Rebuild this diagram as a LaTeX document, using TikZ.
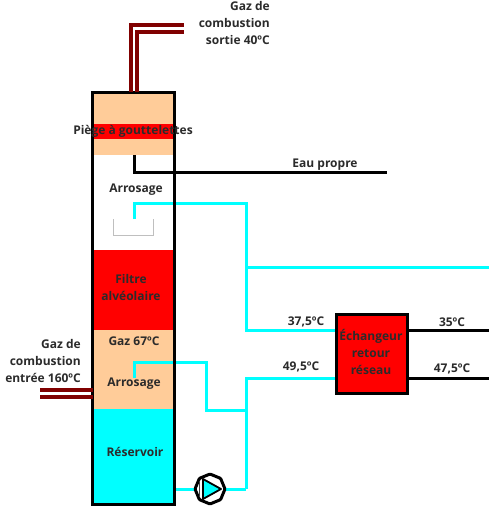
\documentclass[tikz,border=0pt]{standalone}
\usepackage{fontspec}
\setmainfont{Open Sans}
\usetikzlibrary{calc,shapes.geometric}
\definecolor{peach}{HTML}{FFCC99}
\definecolor{gasred}{HTML}{800000}
\definecolor{txt}{HTML}{2B2B2B}
\definecolor{aqua}{HTML}{00FFFF}
\tikzset{
  zone/.style={draw=none,inner sep=0,outer sep=0,minimum width=81pt,anchor=north west},
  lbl/.style={font=\bfseries\fontsize{12}{17}\selectfont,text=txt,inner sep=0,align=center},
  lblr/.style={lbl,align=right},
  cyanline/.style={draw=aqua,line width=3pt,line join=miter},
  blackline/.style={draw=black,line width=3pt,line join=miter},
  gasline/.style={draw=gasred,line width=3.2pt,line join=miter},
  wallbox/.style={draw=black,line width=3.6pt,fill=none,inner sep=0,outer sep=0,anchor=north west}
}
\begin{document}
\begin{tikzpicture}[x=1pt,y=-1pt]
\useasboundingbox (0,0) rectangle (494,512);
% zones
\node[zone,fill=peach,minimum height=63pt] (top) at (93,92) {};
\node[zone,fill=red,minimum height=15pt] (trap) at (93,124) {};
\node[zone,fill=red,minimum height=80pt] (filt) at (93,250) {};
\node[zone,fill=peach,minimum height=79pt] (gaz) at (93,330) {};
\node[zone,fill=aqua,minimum height=96pt] (res) at (93,409) {};
% tray
\coordinate (t1) at (113,219); \coordinate (t2) at (113,235);
\coordinate (t3) at (153,235); \coordinate (t4) at (153,219);
\draw[black!25,line width=.8pt] (t1) -- (t2) -- (t3) -- (t4);
% coordinates
\coordinate (ca) at (134,219); \coordinate (cb) at (134,203); \coordinate (cc) at (246,203);
\coordinate (cd) at (246,330); \coordinate (br) at (246,267); \coordinate (ce) at (489,267);
\coordinate (la) at (134,378); \coordinate (lb) at (134,362); \coordinate (lc) at (206,362);
\coordinate (ld) at (206,410); \coordinate (le) at (246,410);
\coordinate (lf) at (246,378); \coordinate (lg) at (246,489);
\coordinate (wa) at (134,155); \coordinate (wb) at (134,172); \coordinate (wc) at (387,172);
\coordinate (p) at (210,489);
\coordinate (o1) at (489,330); \coordinate (o2) at (489,378);
% lines under the walls
\draw[blackline] (wa) -- (wb) -- (wc);
\draw[cyanline] (ca) -- (cb) -- (cc) -- (cd) -- (336,330);
\draw[cyanline] (br) -- (ce);
\draw[cyanline] (la) -- (lb) -- (lc) -- (ld) -- (le);
\draw[cyanline] (lg) -- (lf) -- (336,378);
\draw[cyanline] (174,489) -- (p);
\draw[cyanline] (p) -- (lg);
% column and exchanger
\node[wallbox,minimum width=82pt,minimum height=412pt] (col) at (92.5,92.5) {};
\node[wallbox,fill=red,minimum width=71pt,minimum height=79pt] (ech) at (336.5,314.5) {};
\draw[blackline] (ech.east |- o1) -- (o1);
\draw[blackline] (ech.east |- o2) -- (o2);
% gas
\coordinate (g1) at (131,92); \coordinate (g2) at (131,25); \coordinate (g3) at (184,25);
\coordinate (g4) at (137,92); \coordinate (g5) at (137,32); \coordinate (g6) at (184,32);
\draw[gasline] (g1) -- (g2) -- (g3);
\draw[gasline] (g4) -- (g5) -- (g6);
\coordinate (g7) at (40,390); \coordinate (g8) at (40,397);
\draw[gasline] (g7) -- (g7 -| col.west);
\draw[gasline] (g8) -- (g8 -| col.west);
% pump
\node[draw=black,line width=3pt,fill=white,regular polygon,regular polygon sides=8,rounded corners=1pt,minimum size=30pt,inner sep=0,shape border rotate=22.5] (pump) at (p) {};
\fill[aqua] (203,479) -- (221,489) -- (203,499) -- cycle;
\draw[black,line width=1.8pt,line join=round] (203,479) -- (221,489) -- (203,499) -- cycle;
\draw[black!75,line width=1.6pt] (199.5,481) -- (199.5,497);
% labels
\node[lblr,anchor=north east] (l1) at (270,1) {Gaz de\\combustion\\sortie 40ºC};
\node[lbl] (l2) at (133,131) {Piège à gouttelettes};
\node[lbl] (l3) at (136,190) {Arrosage};
\node[lbl] (l4) at (325,164.5) {Eau propre};
\node[lbl] (l5) at (131,287) {Filtre\\alvéolaire};
\node[lbl] (l6) at (134,341) {Gaz 67ºC};
\node[lbl] (l7) at (134,384) {Arrosage};
\node[lbl] (l8) at (135,452) {Réservoir};
\node[lblr,anchor=north east] (l9) at (81,339) {Gaz de\\combustion\\entrée 160ºC};
\node[lbl] (l10) at (306,322) {37,5ºC};
\node[lbl] (l11) at (301,367) {49,5ºC};
\node[lbl] (l12) at (452,322) {35ºC};
\node[lbl] (l13) at (452,369) {47,5ºC};
\node[lbl] (l14) at (371,352) {Échangeur\\retour\\réseau};
\end{tikzpicture}
\end{document}
